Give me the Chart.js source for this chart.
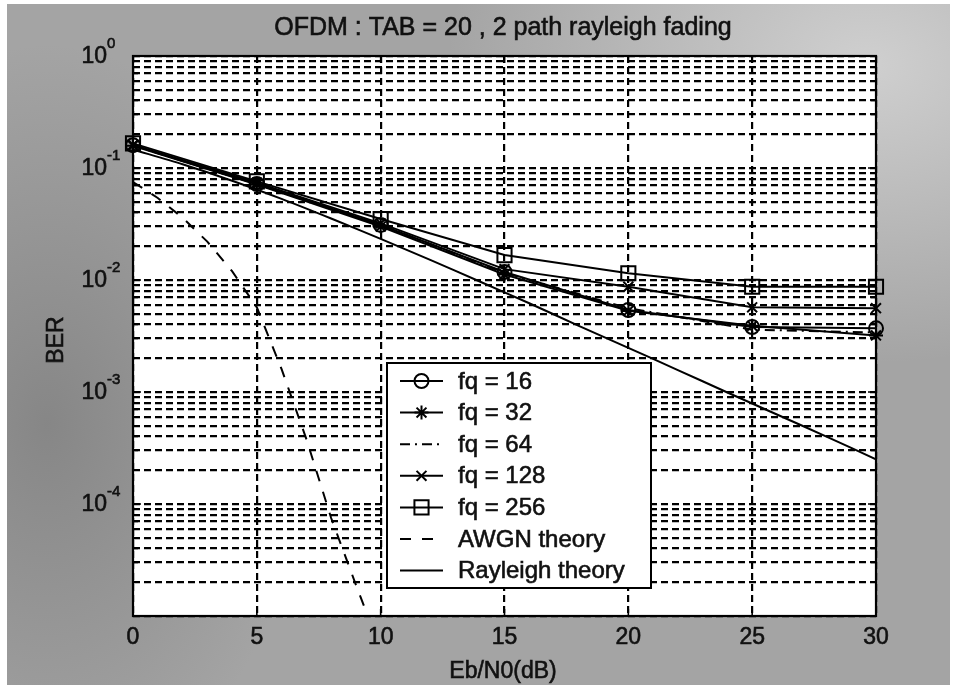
<!DOCTYPE html>
<html>
<head>
<meta charset="utf-8">
<title>OFDM BER</title>
<script src="https://cdn.jsdelivr.net/npm/chart.js@4.4.1/dist/chart.umd.min.js"></script>
<style>
  html, body { margin: 0; padding: 0; background: #fff; }
  #frame {
    position: absolute; left: 7px; top: 4px; width: 943px; height: 681px;
    background:
      radial-gradient(ellipse 420px 300px at 860px 60px, rgba(215,215,215,0.85), rgba(215,215,215,0) 100%),
      radial-gradient(ellipse 260px 380px at 40px 420px, rgba(110,110,110,0.55), rgba(110,110,110,0) 100%),
      #a4a4a4;
  }
  #wrap { position: absolute; left: 0; top: 0; width: 957px; height: 685px; }
</style>
</head>
<body>
<div id="frame"></div>
<div id="wrap"><canvas id="berChart" width="957" height="685"></canvas></div>
<script>
// Eb/N0 points of the simulated runs (dB)
const ebN0 = [0, 5, 10, 15, 20, 25, 30];

// simulated BER for each fq setting
const berFq16  = [0.160, 0.072, 0.031, 0.0118, 0.0054, 0.0038, 0.0037];
const berFq32  = [0.158, 0.071, 0.030, 0.0112, 0.0053, 0.0039, 0.0032];
const berFq64  = [0.159, 0.072, 0.031, 0.0116, 0.0056, 0.0036, 0.0034];
const berFq128 = [0.161, 0.074, 0.032, 0.0125, 0.0087, 0.0057, 0.0056];
const berFq256 = [0.166, 0.076, 0.035, 0.0167, 0.0115, 0.0087, 0.0087];

// theory curves
const awgnEbN0 = [0, 1, 2, 3, 4, 5, 6, 7, 8, 9, 10];
const awgnBer  = [0.075, 0.054, 0.036, 0.022, 0.012, 0.0057, 0.0016, 0.00038, 0.000075, 0.000019, 0.000005];
const rayEbN0  = [0, 2, 4, 6, 8, 10, 12, 14, 16, 18, 20, 22, 24, 26, 28, 30];
const rayBer   = [0.146, 0.108, 0.077, 0.053, 0.0354, 0.0233, 0.0151, 0.0097, 0.0062,
                  0.0039, 0.00248, 0.00157, 0.00099, 0.00063, 0.0004, 0.00025];

const legendLabels = ['fq = 16', 'fq = 32', 'fq = 64', 'fq = 128', 'fq = 256', 'AWGN theory', 'Rayleigh theory'];
const xTicks = [0, 5, 10, 15, 20, 25, 30];
const yDecades = [-5, -4, -3, -2, -1, 0];
const yMantissas = [1, 2, 3, 4, 5, 6, 7, 8, 9];
const yLabelDecades = [0, -1, -2, -3, -4];

const FONT = '"Liberation Sans", Arial, sans-serif';
const INK = '#000';

// grid values: every mantissa of every decade, up to 10^0
const yGrid = [];
yDecades.forEach(d => {
  if (d === 0) { yGrid.push(1); return; }
  yMantissas.forEach(m => yGrid.push(+(m * Math.pow(10, d)).toPrecision(3)));
});

const pts = (xs, ys) => xs.map((x, i) => ({ x: x, y: ys[i] }));

const simStyle = (label, data, pointStyle, radius, dash) => ({
  label: label,
  data: pts(ebN0, data),
  borderColor: INK,
  borderWidth: 2,
  borderDash: dash || [],
  pointStyle: pointStyle,
  pointRadius: radius,
  pointBorderColor: INK,
  pointBackgroundColor: 'rgba(0,0,0,0)',
  pointBorderWidth: 2,
  clip: 12,
  tension: 0
});

const datasets = [
  simStyle(legendLabels[0], berFq16, 'circle', 7),
  simStyle(legendLabels[1], berFq32, 'star', 7),
  simStyle(legendLabels[2], berFq64, false, 0, [10, 5, 2, 5]),
  simStyle(legendLabels[3], berFq128, 'crossRot', 7),
  simStyle(legendLabels[4], berFq256, 'rect', 10),
  {
    label: legendLabels[5], data: pts(awgnEbN0, awgnBer),
    borderColor: INK, borderWidth: 2, borderDash: [11, 11], pointRadius: 0, tension: 0
  },
  {
    label: legendLabels[6], data: pts(rayEbN0, rayBer),
    borderColor: INK, borderWidth: 2, pointRadius: 0, tension: 0.3
  }
];

// text with a thin outline so it reads as heavy as the printed labels
function inkText(ctx, str, x, y) {
  ctx.fillText(str, x, y);
  ctx.strokeText(str, x, y);
}

// white axes background, box, tick labels, titles and the in-plot legend
const berFrame = {
  id: 'berFrame',
  beforeDraw(chart) {
    const { ctx, chartArea: a } = chart;
    ctx.save();
    ctx.fillStyle = '#fff';
    ctx.fillRect(a.left, a.top, a.right - a.left, a.bottom - a.top);
    ctx.restore();
  },
  afterDraw(chart) {
    const { ctx, chartArea: a, scales: { x, y } } = chart;
    ctx.save();

    // axes box with inward ticks
    ctx.strokeStyle = INK;
    ctx.lineWidth = 2.2;
    ctx.strokeRect(a.left, a.top, a.right - a.left, a.bottom - a.top);
    ctx.lineWidth = 1.6;
    ctx.beginPath();
    xTicks.forEach(v => {
      const px = x.getPixelForValue(v);
      ctx.moveTo(px, a.bottom); ctx.lineTo(px, a.bottom - 7);
      ctx.moveTo(px, a.top); ctx.lineTo(px, a.top + 7);
    });
    yGrid.forEach(v => {
      const py = y.getPixelForValue(v);
      const len = Number.isInteger(Math.log10(v)) ? 8 : 5;
      ctx.moveTo(a.left, py); ctx.lineTo(a.left + len, py);
      ctx.moveTo(a.right, py); ctx.lineTo(a.right - len, py);
    });
    ctx.stroke();

    ctx.fillStyle = '#111';
    ctx.strokeStyle = '#111';
    ctx.lineWidth = 0.6;

    // x tick labels
    ctx.font = '23px ' + FONT;
    ctx.textAlign = 'center';
    ctx.textBaseline = 'middle';
    xTicks.forEach(v => inkText(ctx, String(v), x.getPixelForValue(v), a.bottom + 22));

    // y tick labels as 10 with a raised exponent
    yLabelDecades.forEach(d => {
      const py = y.getPixelForValue(Math.pow(10, d));
      ctx.font = '23px ' + FONT;
      ctx.textAlign = 'right';
      ctx.textBaseline = 'middle';
      inkText(ctx, '10', a.left - 26, py + 1);
      ctx.font = '15px ' + FONT;
      ctx.textAlign = 'left';
      inkText(ctx, d === 0 ? '0' : '-' + Math.abs(d), a.left - 26, py - 12);
    });

    // titles
    ctx.font = '25px ' + FONT;
    ctx.textAlign = 'center';
    ctx.textBaseline = 'middle';
    inkText(ctx, 'OFDM : TAB = 20 , 2 path rayleigh fading', 503, 28);
    ctx.font = '23px ' + FONT;
    inkText(ctx, 'Eb/N0(dB)', 503, 672);
    ctx.save();
    ctx.translate(57, 340);
    ctx.rotate(-Math.PI / 2);
    inkText(ctx, 'BER', 0, 0);
    ctx.restore();

    // legend box
    const box = { left: 387, top: 363, right: 651, bottom: 588 };
    ctx.fillStyle = '#fff';
    ctx.fillRect(box.left, box.top, box.right - box.left, box.bottom - box.top);
    ctx.strokeStyle = INK;
    ctx.lineWidth = 2;
    ctx.strokeRect(box.left, box.top, box.right - box.left, box.bottom - box.top);

    chart.data.datasets.forEach((ds, i) => {
      const cy = 381 + i * 31.6;
      ctx.save();
      ctx.strokeStyle = INK;
      ctx.lineWidth = ds.borderWidth;
      ctx.setLineDash(ds.borderDash || []);
      ctx.beginPath();
      ctx.moveTo(400, cy); ctx.lineTo(443, cy);
      ctx.stroke();
      ctx.setLineDash([]);
      if (ds.pointStyle && ds.pointRadius) {
        ctx.fillStyle = 'rgba(0,0,0,0)';
        ctx.lineWidth = ds.pointBorderWidth;
        Chart.helpers.drawPoint(ctx, {
          pointStyle: ds.pointStyle, radius: ds.pointRadius, rotation: 0, borderWidth: ds.pointBorderWidth
        }, 421.5, cy);
      }
      ctx.restore();
      ctx.fillStyle = '#111';
      ctx.strokeStyle = '#111';
      ctx.lineWidth = 0.6;
      ctx.font = '24px ' + FONT;
      ctx.textAlign = 'left';
      ctx.textBaseline = 'middle';
      inkText(ctx, ds.label, 458, cy + 1);
    });

    ctx.restore();
  }
};

new Chart(document.getElementById('berChart'), {
  type: 'line',
  data: { datasets: datasets },
  options: {
    responsive: false,
    animation: false,
    layout: { padding: { left: 133, right: 81, top: 56, bottom: 69 } },
    plugins: { legend: { display: false }, tooltip: { enabled: false } },
    scales: {
      x: {
        type: 'linear', min: 0, max: 30,
        ticks: { display: false, stepSize: 5 },
        afterBuildTicks: s => { s.ticks = xTicks.map(v => ({ value: v })); },
        grid: { color: INK, lineWidth: 2.2, drawTicks: false },
        border: { display: false, dash: [7, 4] }
      },
      y: {
        type: 'logarithmic', min: 1e-5, max: 1,
        ticks: { display: false },
        afterBuildTicks: s => { s.ticks = yGrid.map(v => ({ value: v })); },
        grid: { color: INK, lineWidth: 2.2, drawTicks: false },
        border: { display: false, dash: [7, 4] }
      }
    }
  },
  plugins: [berFrame]
});
</script>
</body>
</html>
